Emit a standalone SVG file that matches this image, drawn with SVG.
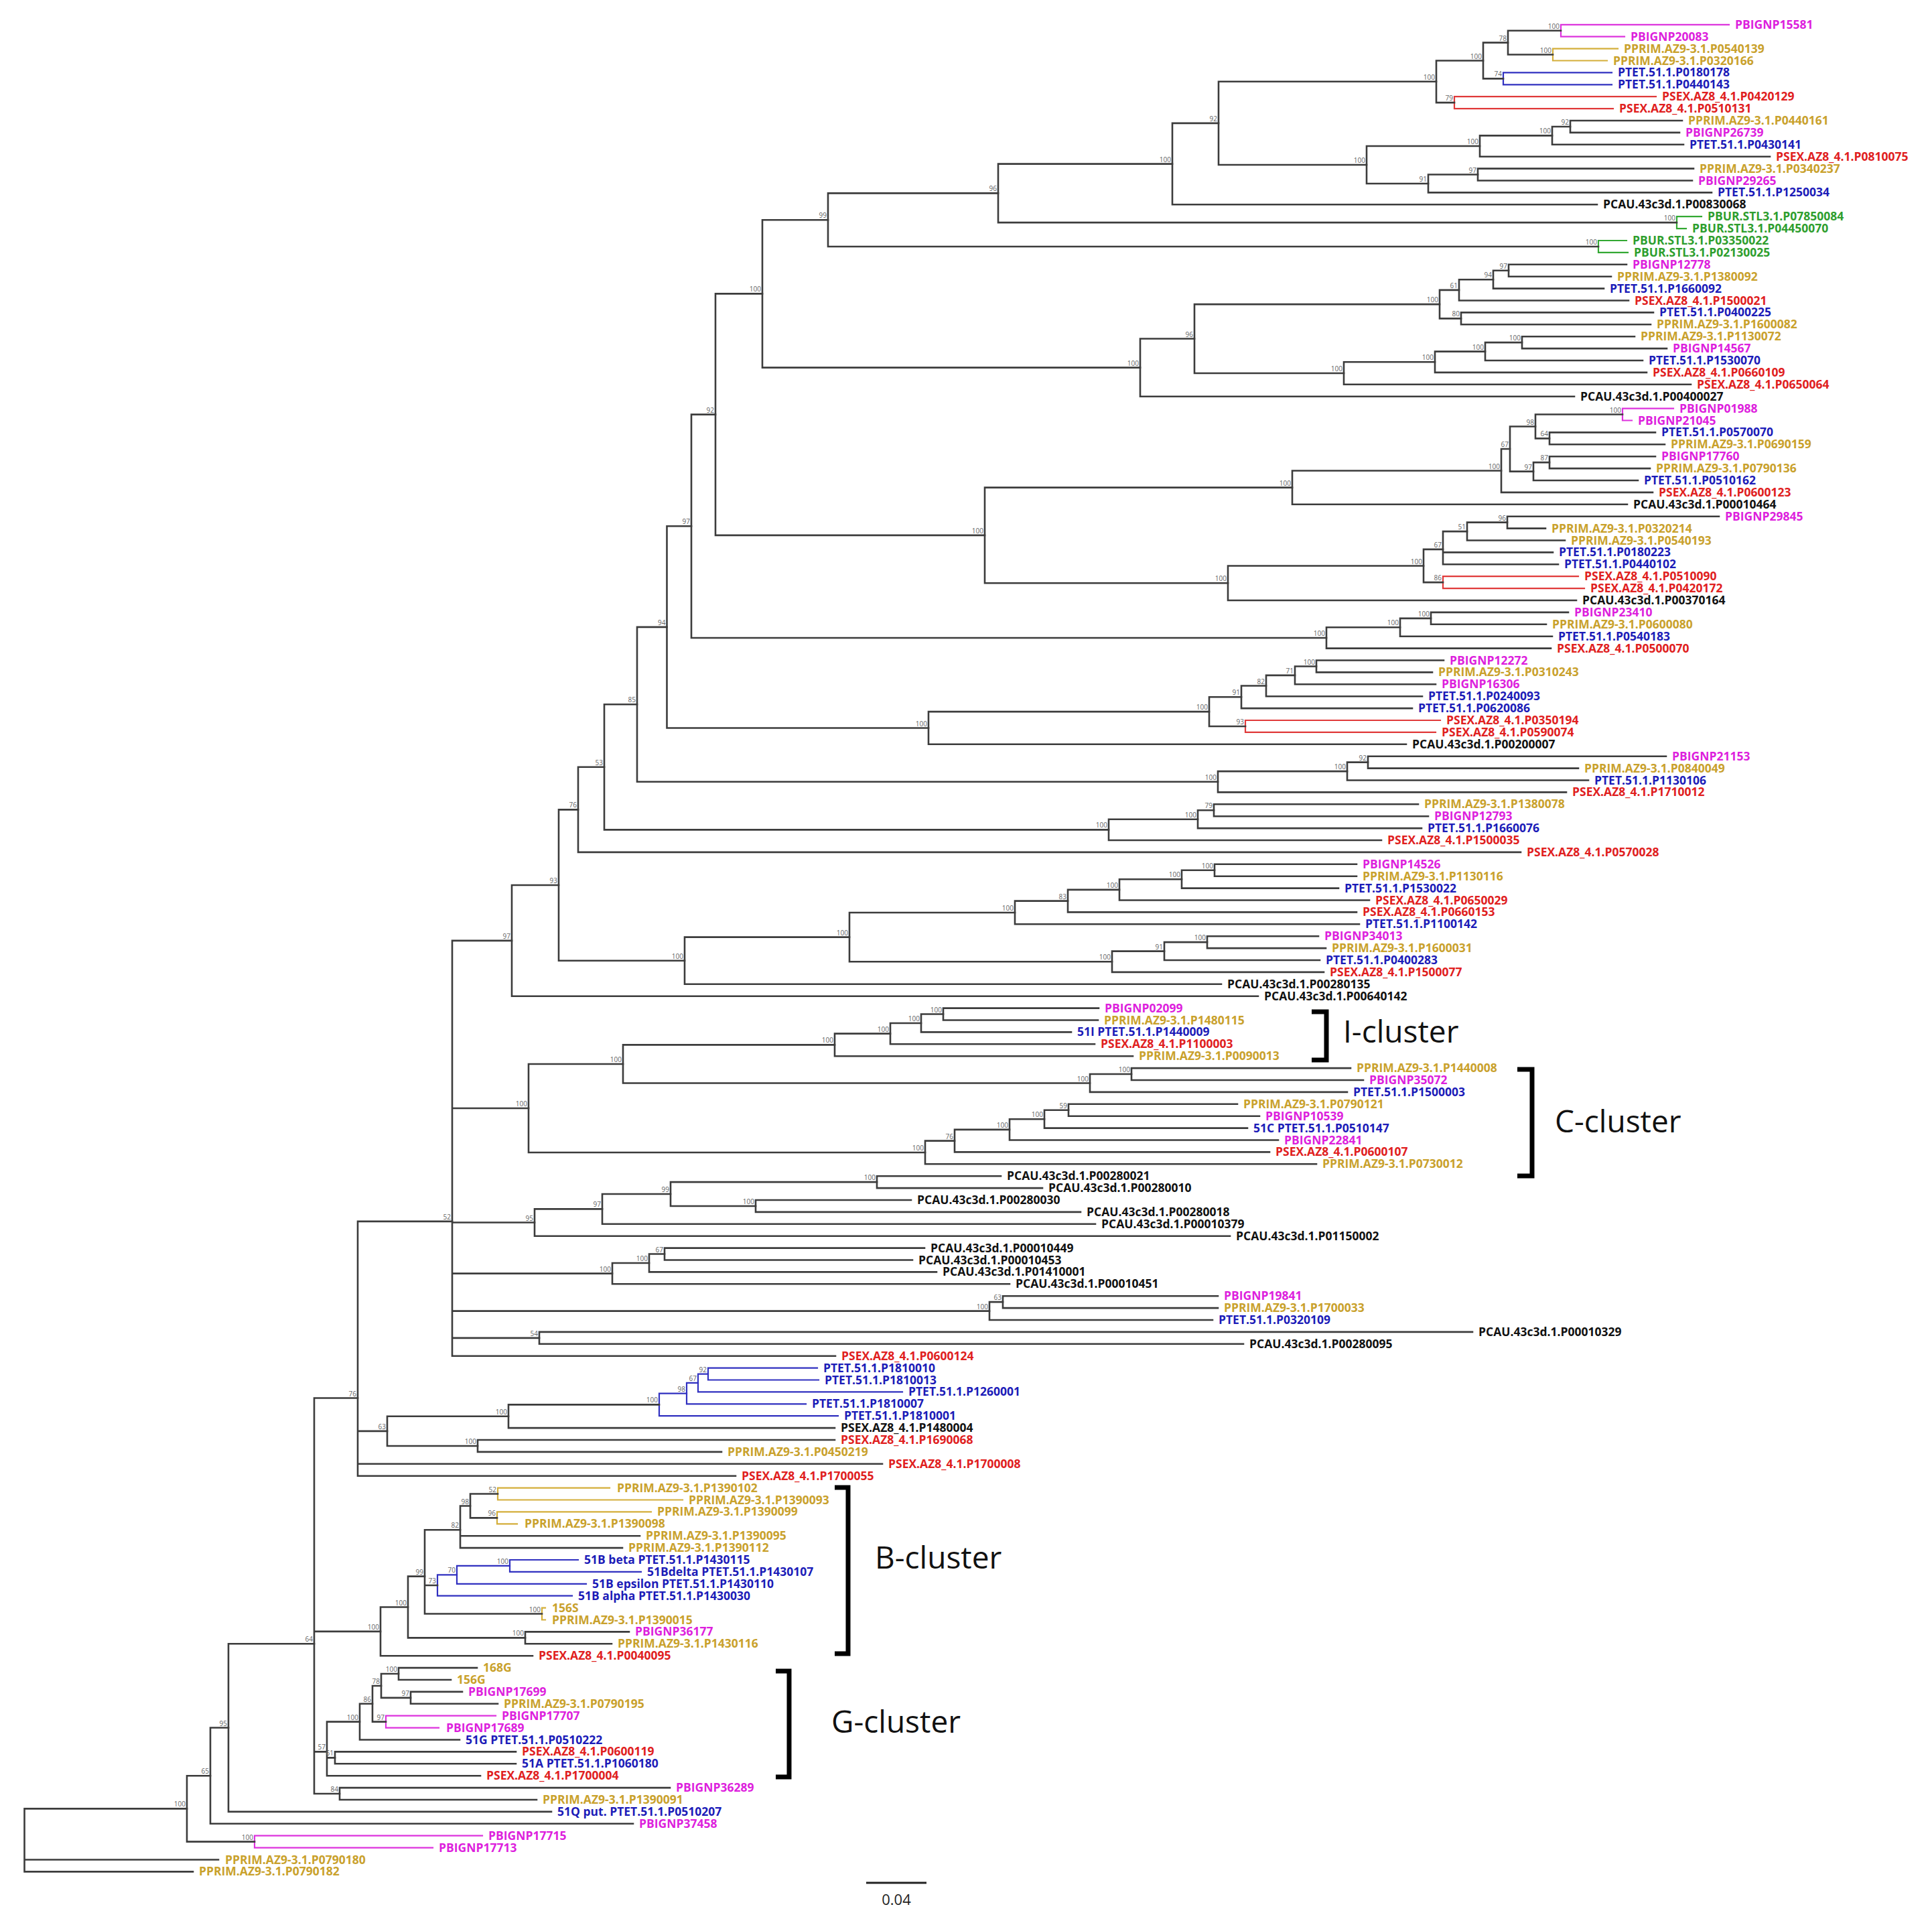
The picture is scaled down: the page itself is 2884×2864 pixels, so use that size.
<svg xmlns="http://www.w3.org/2000/svg" width="2884" height="2864" viewBox="0 0 2884 2864">
<style>
.e{fill:none;stroke:#3c3c3c;stroke-width:2.6;stroke-linecap:square}
.cm{fill:none;stroke:#DD33DD;stroke-width:2.2;stroke-linecap:square}
.cg{fill:none;stroke:#D4AE3A;stroke-width:2.2;stroke-linecap:square}
.cb{fill:none;stroke:#3030C0;stroke-width:2.2;stroke-linecap:square}
.cr{fill:none;stroke:#E03A3A;stroke-width:2.2;stroke-linecap:square}
.cgr{fill:none;stroke:#33A833;stroke-width:2.2;stroke-linecap:square}
text{font-family:"Open Sans","Liberation Sans",sans-serif}
.t{font-weight:700;font-size:17.5px}
.m{fill:#DD1FDD}.g{fill:#C9A12C}.b{fill:#1C1CB8}.r{fill:#E0201E}.gr{fill:#2E9E2E}.k{fill:#111}
.bs{font-family:"Liberation Sans",sans-serif;font-size:10px;fill:#666;text-anchor:end}
.cl{font-size:46px;fill:#111}
.br{fill:none;stroke:#000;stroke-width:7}
</style>
<rect width="2884" height="2864" fill="#fff"/>
<g id="connectors">
<path class="cm" d="M2330 36.8V54.7M2330 36.8H2581M2330 54.7H2425"/>
<path class="cg" d="M2318 72.6V90.5M2318 72.6H2415M2318 90.5H2399"/>
<path class="e" d="M2251 45.75V81.55M2251 45.75H2330M2251 81.55H2318"/>
<path class="cb" d="M2244 108.4V126.3M2244 108.4H2406M2244 126.3H2406"/>
<path class="e" d="M2214 63.65V117.35M2214 63.65H2251M2214 117.35H2244"/>
<path class="cr" d="M2171 144.2V162.1M2171 144.2H2472M2171 162.1H2408"/>
<path class="e" d="M2144 90.5V153.15M2144 90.5H2214M2144 153.15H2171"/>
<path class="e" d="M2344 180V197.9M2344 180H2511M2344 197.9H2507"/>
<path class="e" d="M2317 188.95V215.8M2317 188.95H2344M2317 215.8H2513"/>
<path class="e" d="M2209 202.4V233.7M2209 202.4H2317M2209 233.7H2642"/>
<path class="e" d="M2206 251.6V269.5M2206 251.6H2528M2206 269.5H2526"/>
<path class="e" d="M2132 260.55V287.4M2132 260.55H2206M2132 287.4H2555"/>
<path class="e" d="M2040 218.05V273.95M2040 218.05H2209M2040 273.95H2132"/>
<path class="e" d="M1819 121.8V246M1819 121.8H2144M1819 246H2040"/>
<path class="e" d="M1750 183.9V305.3M1750 183.9H1819M1750 305.3H2384"/>
<path class="cgr" d="M2503 323.2V341.1M2503 323.2H2540M2503 341.1H2517"/>
<path class="e" d="M1490 244.6V332.15M1490 244.6H1750M1490 332.15H2503"/>
<path class="cgr" d="M2386 359V376.9M2386 359H2428M2386 376.9H2430"/>
<path class="e" d="M1236 288.4V367.95M1236 288.4H1490M1236 367.95H2386"/>
<path class="e" d="M2252 394.8V412.7M2252 394.8H2428M2252 412.7H2405"/>
<path class="e" d="M2229 403.75V430.6M2229 403.75H2252M2229 430.6H2394"/>
<path class="e" d="M2178 417.2V448.5M2178 417.2H2229M2178 448.5H2431"/>
<path class="e" d="M2181 466.4V484.3M2181 466.4H2468M2181 484.3H2464"/>
<path class="e" d="M2149 432.85V475.35M2149 432.85H2178M2149 475.35H2181"/>
<path class="e" d="M2272 502.2V520.1M2272 502.2H2440M2272 520.1H2488"/>
<path class="e" d="M2217 511.15V538M2217 511.15H2272M2217 538H2452"/>
<path class="e" d="M2142 524.6V555.9M2142 524.6H2217M2142 555.9H2458"/>
<path class="e" d="M2006 540.25V573.8M2006 540.25H2142M2006 573.8H2524"/>
<path class="e" d="M1783 454.1V557M1783 454.1H2149M1783 557H2006"/>
<path class="e" d="M1702 505.55V591.7M1702 505.55H1783M1702 591.7H2350"/>
<path class="e" d="M1138 328.2V548.6M1138 328.2H1236M1138 548.6H1702"/>
<path class="cm" d="M2422 609.6V627.5M2422 609.6H2498M2422 627.5H2436"/>
<path class="e" d="M2313 645.4V663.3M2313 645.4H2471M2313 663.3H2485"/>
<path class="e" d="M2292 618.55V654.35M2292 618.55H2422M2292 654.35H2313"/>
<path class="e" d="M2313 681.2V699.1M2313 681.2H2471M2313 699.1H2463"/>
<path class="e" d="M2289 690.15V717M2289 690.15H2313M2289 717H2445"/>
<path class="e" d="M2254 636.45V703.6M2254 636.45H2292M2254 703.6H2289"/>
<path class="e" d="M2241 670V734.9M2241 670H2254M2241 734.9H2467"/>
<path class="e" d="M1929 702.45V752.8M1929 702.45H2241M1929 752.8H2429"/>
<path class="e" d="M2250 770.7V788.6M2250 770.7H2566M2250 788.6H2307"/>
<path class="e" d="M2190 779.65V806.5M2190 779.65H2250M2190 806.5H2336"/>
<path class="e" d="M2154 793.1V842.3M2154 793.1H2190M2154 824.4H2318M2154 842.3H2326"/>
<path class="cr" d="M2154 860.2V878.1M2154 860.2H2356M2154 878.1H2365"/>
<path class="e" d="M2125 819.9V869.15M2125 819.9H2154M2125 869.15H2154"/>
<path class="e" d="M1833 844.5V896M1833 844.5H2125M1833 896H2353"/>
<path class="e" d="M1470 727.6V870.25M1470 727.6H1929M1470 870.25H1833"/>
<path class="e" d="M1068 438.4V798.9M1068 438.4H1138M1068 798.9H1470"/>
<path class="e" d="M2136 913.9V931.8M2136 913.9H2341M2136 931.8H2308"/>
<path class="e" d="M2090 922.85V949.7M2090 922.85H2136M2090 949.7H2317"/>
<path class="e" d="M1980 936.3V967.6M1980 936.3H2090M1980 967.6H2315"/>
<path class="e" d="M1032 618.65V951.95M1032 618.65H1068M1032 951.95H1980"/>
<path class="e" d="M1965 985.5V1003.4M1965 985.5H2155M1965 1003.4H2138"/>
<path class="e" d="M1933 994.45V1021.3M1933 994.45H1965M1933 1021.3H2143"/>
<path class="e" d="M1890 1007.9V1039.2M1890 1007.9H1933M1890 1039.2H2123"/>
<path class="e" d="M1853 1023.55V1057.1M1853 1023.55H1890M1853 1057.1H2108"/>
<path class="cr" d="M1859 1075V1092.9M1859 1075H2150M1859 1092.9H2143"/>
<path class="e" d="M1805 1040.3V1083.95M1805 1040.3H1853M1805 1083.95H1859"/>
<path class="e" d="M1386 1062.1V1110.8M1386 1062.1H1805M1386 1110.8H2099"/>
<path class="e" d="M995.5 785.3V1086.45M995.5 785.3H1032M995.5 1086.45H1386"/>
<path class="e" d="M2042 1128.7V1146.6M2042 1128.7H2487M2042 1146.6H2356"/>
<path class="e" d="M2011 1137.65V1164.5M2011 1137.65H2042M2011 1164.5H2371"/>
<path class="e" d="M1818 1151.1V1182.4M1818 1151.1H2011M1818 1182.4H2338"/>
<path class="e" d="M951 935.9V1166.75M951 935.9H995.5M951 1166.75H1818"/>
<path class="e" d="M1812 1200.3V1218.2M1812 1200.3H2117M1812 1218.2H2132"/>
<path class="e" d="M1788 1209.25V1236.1M1788 1209.25H1812M1788 1236.1H2122"/>
<path class="e" d="M1655 1222.7V1254M1655 1222.7H1788M1655 1254H2062"/>
<path class="e" d="M902 1051.3V1238.35M902 1051.3H951M902 1238.35H1655"/>
<path class="e" d="M863 1144.8V1271.9M863 1144.8H902M863 1271.9H2270"/>
<path class="e" d="M1813 1289.8V1307.7M1813 1289.8H2025M1813 1307.7H2025"/>
<path class="e" d="M1764 1298.75V1325.6M1764 1298.75H1813M1764 1325.6H1998"/>
<path class="e" d="M1671 1312.2V1343.5M1671 1312.2H1764M1671 1343.5H2044"/>
<path class="e" d="M1594 1327.85V1361.4M1594 1327.85H1671M1594 1361.4H2025"/>
<path class="e" d="M1515 1344.6V1379.3M1515 1344.6H1594M1515 1379.3H2029"/>
<path class="e" d="M1802 1397.2V1415.1M1802 1397.2H1968M1802 1415.1H1979"/>
<path class="e" d="M1738 1406.15V1433M1738 1406.15H1802M1738 1433H1970"/>
<path class="e" d="M1660 1419.6V1450.9M1660 1419.6H1738M1660 1450.9H1976"/>
<path class="e" d="M1268 1361.95V1435.25M1268 1361.95H1515M1268 1435.25H1660"/>
<path class="e" d="M1022 1398.6V1468.8M1022 1398.6H1268M1022 1468.8H1823"/>
<path class="e" d="M834 1208.35V1433.7M834 1208.35H863M834 1433.7H1022"/>
<path class="e" d="M764 1321V1486.7M764 1321H834M764 1486.7H1878"/>
<path class="e" d="M1408 1504.6V1522.5M1408 1504.6H1640M1408 1522.5H1639"/>
<path class="e" d="M1375 1513.55V1540.4M1375 1513.55H1408M1375 1540.4H1599"/>
<path class="e" d="M1329 1527V1558.3M1329 1527H1375M1329 1558.3H1634"/>
<path class="e" d="M1246 1542.65V1576.2M1246 1542.65H1329M1246 1576.2H1691"/>
<path class="e" d="M1689 1594.1V1612M1689 1594.1H2016M1689 1612H2035"/>
<path class="e" d="M1627 1603.05V1629.9M1627 1603.05H1689M1627 1629.9H2011"/>
<path class="e" d="M930 1559.4V1616.5M930 1559.4H1246M930 1616.5H1627"/>
<path class="e" d="M1595 1647.8V1665.7M1595 1647.8H1847M1595 1665.7H1880"/>
<path class="e" d="M1559 1656.75V1683.6M1559 1656.75H1595M1559 1683.6H1862"/>
<path class="e" d="M1507 1670.2V1701.5M1507 1670.2H1559M1507 1701.5H1908"/>
<path class="e" d="M1425 1685.85V1719.4M1425 1685.85H1507M1425 1719.4H1895"/>
<path class="e" d="M1381 1702.6V1737.3M1381 1702.6H1425M1381 1737.3H1965"/>
<path class="e" d="M789 1587.95V1719.95M789 1587.95H930M789 1719.95H1381"/>
<path class="e" d="M1309 1755.2V1773.1M1309 1755.2H1494M1309 1773.1H1556"/>
<path class="e" d="M1128 1791V1808.9M1128 1791H1360M1128 1808.9H1613"/>
<path class="e" d="M1001 1764.15V1799.95M1001 1764.15H1309M1001 1799.95H1128"/>
<path class="e" d="M899 1782.05V1826.8M899 1782.05H1001M899 1826.8H1635"/>
<path class="e" d="M798 1804.4V1844.7M798 1804.4H899M798 1844.7H1836"/>
<path class="e" d="M992 1862.6V1880.5M992 1862.6H1380M992 1880.5H1362"/>
<path class="e" d="M969 1871.55V1898.4M969 1871.55H992M969 1898.4H1398"/>
<path class="e" d="M914 1885V1916.3M914 1885H969M914 1916.3H1507"/>
<path class="e" d="M1497 1934.2V1952.1M1497 1934.2H1818M1497 1952.1H1818"/>
<path class="e" d="M1477 1943.15V1970M1477 1943.15H1497M1477 1970H1810"/>
<path class="e" d="M805 1987.9V2005.8M805 1987.9H2198M805 2005.8H1856"/>
<path class="e" d="M675 1403.85V2023.7M675 1403.85H764M675 1653.95H789M675 1824.55H798M675 1900.65H914M675 1956.6H1477M675 1996.85H805M675 2023.7H1247"/>
<path class="cb" d="M1057 2041.6V2059.5M1057 2041.6H1220M1057 2059.5H1222"/>
<path class="cb" d="M1042 2050.55V2077.4M1042 2050.55H1057M1042 2077.4H1347"/>
<path class="cb" d="M1025 2063.95V2095.3M1025 2063.95H1042M1025 2095.3H1203"/>
<path class="cb" d="M984 2079.6V2113.2M984 2079.6H1025M984 2113.2H1251"/>
<path class="e" d="M759 2096.4V2131.1M759 2096.4H984M759 2131.1H1246"/>
<path class="e" d="M713 2149V2166.9M713 2149H1246M713 2166.9H1077"/>
<path class="e" d="M578 2113.75V2157.95M578 2113.75H759M578 2157.95H713"/>
<path class="e" d="M534 1822.88V2202.7M534 1822.88H675M534 2135.85H578M534 2184.8H1317M534 2202.7H1098"/>
<path class="cg" d="M743 2220.6V2238.5M743 2220.6H910M743 2238.5H1019"/>
<path class="cg" d="M742 2256.4V2274.3M742 2256.4H972M742 2274.3H772"/>
<path class="e" d="M702 2229.55V2265.35M702 2229.55H743M702 2265.35H742"/>
<path class="e" d="M687 2247.45V2310.1M687 2247.45H702M687 2292.2H955M687 2310.1H929"/>
<path class="cb" d="M761 2328V2345.9M761 2328H863M761 2345.9H957"/>
<path class="cb" d="M682 2336.95V2363.8M682 2336.95H761M682 2363.8H875"/>
<path class="cb" d="M653 2350.4V2381.7M653 2350.4H682M653 2381.7H854"/>
<path class="cg" d="M809 2399.6V2417.5M809 2399.6H814M809 2417.5H814"/>
<path class="e" d="M634 2283.25V2408.55M634 2283.25H687M634 2366.05H653M634 2408.55H809"/>
<path class="e" d="M784 2435.4V2453.3M784 2435.4H939M784 2453.3H913"/>
<path class="e" d="M609 2352.6V2444.35M609 2352.6H634M609 2444.35H784"/>
<path class="e" d="M568 2398.5V2471.2M568 2398.5H609M568 2471.2H795"/>
<path class="e" d="M595 2489.1V2507M595 2489.1H712M595 2507H673"/>
<path class="e" d="M613 2524.9V2542.8M613 2524.9H690M613 2542.8H743"/>
<path class="e" d="M569 2498.05V2533.85M569 2498.05H595M569 2533.85H613"/>
<path class="cm" d="M576 2560.7V2578.6M576 2560.7H740M576 2578.6H655"/>
<path class="e" d="M556 2515.95V2569.65M556 2515.95H569M556 2569.65H576"/>
<path class="e" d="M537 2542.8V2596.5M537 2542.8H556M537 2596.5H686"/>
<path class="e" d="M500 2614.4V2632.3M500 2614.4H770M500 2632.3H770"/>
<path class="e" d="M488 2569.65V2650.2M488 2569.65H537M488 2623.35H500M488 2650.2H717"/>
<path class="e" d="M507 2668.1V2686M507 2668.1H1000M507 2686H801"/>
<path class="e" d="M469 2086.56V2677.05M469 2086.56H534M469 2434.85H568M469 2614.4H488M469 2677.05H507"/>
<path class="e" d="M341 2453.2V2703.9M341 2453.2H469M341 2703.9H823"/>
<path class="e" d="M314 2578.55V2721.8M314 2578.55H341M314 2721.8H945"/>
<path class="cm" d="M380 2739.7V2757.6M380 2739.7H720M380 2757.6H646"/>
<path class="e" d="M279 2650.2V2748.65M279 2650.2H314M279 2748.65H380"/>
<path class="e" d="M36.5 2699.4V2793.4M36.5 2699.4H279M36.5 2775.5H326M36.5 2793.4H288"/>
</g>
<g id="bootstrap" class="bs">
<text x="2328" y="42.8">100</text><text x="2316" y="78.6">100</text><text x="2249" y="60.7">78</text><text x="2242" y="114.4">74</text><text x="2212" y="87.5">100</text><text x="2169" y="150.2">79</text><text x="2142" y="118.8">100</text>
<text x="2342" y="186">92</text><text x="2315" y="199.4">100</text><text x="2207" y="215">100</text><text x="2204" y="257.6">97</text><text x="2130" y="271">91</text><text x="2038" y="243">100</text>
<text x="1817" y="180.9">92</text><text x="1748" y="241.6">100</text><text x="1488" y="285.4">96</text><text x="2501" y="329.2">100</text><text x="2384" y="365">100</text><text x="1234" y="325.2">99</text>
<text x="2250" y="400.8">97</text><text x="2227" y="414.2">94</text><text x="2176" y="429.9">61</text><text x="2179" y="472.4">80</text><text x="2147" y="451.1">100</text><text x="2270" y="508.2">100</text><text x="2215" y="521.6">100</text><text x="2140" y="537.3">100</text><text x="2004" y="554">100</text><text x="1781" y="502.6">96</text><text x="1700" y="545.6">100</text><text x="1136" y="435.4">100</text>
<text x="2420" y="615.6">100</text><text x="2311" y="651.4">64</text><text x="2290" y="633.5">98</text><text x="2311" y="687.2">87</text><text x="2287" y="700.6">97</text><text x="2252" y="667">67</text><text x="2239" y="699.5">100</text><text x="1927" y="724.6">100</text>
<text x="2248" y="776.7">96</text><text x="2188" y="790.1">51</text><text x="2152" y="816.9">67</text><text x="2152" y="866.2">86</text><text x="2123" y="841.5">100</text><text x="1831" y="867.3">100</text><text x="1468" y="795.9">100</text><text x="1066" y="615.7">92</text>
<text x="2134" y="919.9">100</text><text x="2088" y="933.3">100</text><text x="1978" y="949">100</text><text x="1030" y="782.3">97</text>
<text x="1963" y="991.5">100</text><text x="1931" y="1004.9">71</text><text x="1888" y="1020.6">82</text><text x="1851" y="1037.3">91</text><text x="1857" y="1081">93</text><text x="1803" y="1059.1">100</text><text x="1384" y="1083.5">100</text><text x="993.5" y="932.9">94</text>
<text x="2040" y="1134.7">92</text><text x="2009" y="1148.1">100</text><text x="1816" y="1163.8">100</text><text x="949" y="1048.3">85</text>
<text x="1810" y="1206.3">79</text><text x="1786" y="1219.7">100</text><text x="1653" y="1235.4">100</text><text x="900" y="1141.8">53</text><text x="861" y="1205.4">76</text>
<text x="1811" y="1295.8">100</text><text x="1762" y="1309.2">100</text><text x="1669" y="1324.9">100</text><text x="1592" y="1341.6">83</text><text x="1513" y="1359">100</text><text x="1800" y="1403.2">100</text><text x="1736" y="1416.6">91</text><text x="1658" y="1432.3">100</text><text x="1266" y="1395.6">100</text><text x="1020" y="1430.7">100</text><text x="832" y="1318">93</text><text x="762" y="1400.9">97</text>
<text x="1406" y="1510.6">100</text><text x="1373" y="1524">100</text><text x="1327" y="1539.7">100</text><text x="1244" y="1556.4">100</text><text x="1687" y="1600">100</text><text x="1625" y="1613.5">100</text><text x="928" y="1585">100</text>
<text x="1593" y="1653.8">59</text><text x="1557" y="1667.2">100</text><text x="1505" y="1682.9">100</text><text x="1423" y="1699.6">76</text><text x="1379" y="1717">100</text><text x="787" y="1651">100</text>
<text x="1307" y="1761.2">100</text><text x="1126" y="1797">100</text><text x="999" y="1779">99</text><text x="897" y="1801.4">97</text><text x="796" y="1821.6">95</text>
<text x="990" y="1868.6">67</text><text x="967" y="1882">100</text><text x="912" y="1897.7">100</text><text x="1495" y="1940.2">63</text><text x="1475" y="1953.6">100</text><text x="803" y="1993.9">54</text><text x="673" y="1819.9">52</text>
<text x="1055" y="2047.6">92</text><text x="1040" y="2061">67</text><text x="1023" y="2076.6">98</text><text x="982" y="2093.4">100</text><text x="757" y="2110.8">100</text><text x="711" y="2155">100</text><text x="576" y="2132.9">63</text><text x="532" y="2083.6">76</text>
<text x="741" y="2226.6">52</text><text x="740" y="2262.4">96</text><text x="700" y="2244.5">98</text><text x="685" y="2280.3">82</text><text x="759" y="2334">100</text><text x="680" y="2347.4">70</text><text x="651" y="2363">73</text><text x="807" y="2405.6">100</text><text x="632" y="2349.6">99</text><text x="782" y="2441.4">100</text><text x="607" y="2395.5">100</text><text x="566" y="2431.9">100</text>
<text x="593" y="2495">100</text><text x="611" y="2530.9">97</text><text x="567" y="2513">78</text><text x="574" y="2566.7">97</text><text x="554" y="2539.8">86</text><text x="535" y="2566.7">100</text><text x="498" y="2620.4">61</text><text x="486" y="2611.4">57</text><text x="505" y="2674">84</text>
<text x="467" y="2450.2">64</text><text x="339" y="2575.6">95</text><text x="312" y="2647.2">65</text><text x="378" y="2745.7">100</text><text x="277" y="2696.4">100</text>
</g>
<g id="leaves" class="t">
<g id="n1"><text class="m" x="2590" y="42.8">PBIGNP15581</text></g>
<g id="n2"><text class="m" x="2434" y="60.7">PBIGNP20083</text></g>
<g id="n3"><text class="g" x="2424" y="78.6">PPRIM.AZ9-3.1.P0540139</text></g>
<g id="n4"><text class="g" x="2408" y="96.5">PPRIM.AZ9-3.1.P0320166</text></g>
<g id="n5"><text class="b" x="2415" y="114.4">PTET.51.1.P0180178</text></g>
<g id="n6"><text class="b" x="2415" y="132.3">PTET.51.1.P0440143</text></g>
<g id="n7"><text class="r" x="2481" y="150.2">PSEX.AZ8_4.1.P0420129</text></g>
<g id="n8"><text class="r" x="2417" y="168.1">PSEX.AZ8_4.1.P0510131</text></g>
<g id="n9"><text class="g" x="2520" y="186">PPRIM.AZ9-3.1.P0440161</text></g>
<g id="n10"><text class="m" x="2516" y="203.9">PBIGNP26739</text></g>
<g id="n11"><text class="b" x="2522" y="221.8">PTET.51.1.P0430141</text></g>
<g id="n12"><text class="r" x="2651" y="239.7">PSEX.AZ8_4.1.P0810075</text></g>
<g id="n13"><text class="g" x="2537" y="257.6">PPRIM.AZ9-3.1.P0340237</text></g>
<g id="n14"><text class="m" x="2535" y="275.5">PBIGNP29265</text></g>
<g id="n15"><text class="b" x="2564" y="293.4">PTET.51.1.P1250034</text></g>
<g id="n16"><text class="k" x="2393" y="311.3">PCAU.43c3d.1.P00830068</text></g>
<g id="n17"><text class="gr" x="2549" y="329.2">PBUR.STL3.1.P07850084</text></g>
<g id="n18"><text class="gr" x="2526" y="347.1">PBUR.STL3.1.P04450070</text></g>
<g id="n19"><text class="gr" x="2437" y="365">PBUR.STL3.1.P03350022</text></g>
<g id="n20"><text class="gr" x="2439" y="382.9">PBUR.STL3.1.P02130025</text></g>
<g id="n21"><text class="m" x="2437" y="400.8">PBIGNP12778</text></g>
<g id="n22"><text class="g" x="2414" y="418.7">PPRIM.AZ9-3.1.P1380092</text></g>
<g id="n23"><text class="b" x="2403" y="436.6">PTET.51.1.P1660092</text></g>
<g id="n24"><text class="r" x="2440" y="454.5">PSEX.AZ8_4.1.P1500021</text></g>
<g id="n25"><text class="b" x="2477" y="472.4">PTET.51.1.P0400225</text></g>
<g id="n26"><text class="g" x="2473" y="490.3">PPRIM.AZ9-3.1.P1600082</text></g>
<g id="n27"><text class="g" x="2449" y="508.2">PPRIM.AZ9-3.1.P1130072</text></g>
<g id="n28"><text class="m" x="2497" y="526.1">PBIGNP14567</text></g>
<g id="n29"><text class="b" x="2461" y="544">PTET.51.1.P1530070</text></g>
<g id="n30"><text class="r" x="2467" y="561.9">PSEX.AZ8_4.1.P0660109</text></g>
<g id="n31"><text class="r" x="2533" y="579.8">PSEX.AZ8_4.1.P0650064</text></g>
<g id="n32"><text class="k" x="2359" y="597.7">PCAU.43c3d.1.P00400027</text></g>
<g id="n33"><text class="m" x="2507" y="615.6">PBIGNP01988</text></g>
<g id="n34"><text class="m" x="2445" y="633.5">PBIGNP21045</text></g>
<g id="n35"><text class="b" x="2480" y="651.4">PTET.51.1.P0570070</text></g>
<g id="n36"><text class="g" x="2494" y="669.3">PPRIM.AZ9-3.1.P0690159</text></g>
<g id="n37"><text class="m" x="2480" y="687.2">PBIGNP17760</text></g>
<g id="n38"><text class="g" x="2472" y="705.1">PPRIM.AZ9-3.1.P0790136</text></g>
<g id="n39"><text class="b" x="2454" y="723">PTET.51.1.P0510162</text></g>
<g id="n40"><text class="r" x="2476" y="740.9">PSEX.AZ8_4.1.P0600123</text></g>
<g id="n41"><text class="k" x="2438" y="758.8">PCAU.43c3d.1.P00010464</text></g>
<g id="n42"><text class="m" x="2575" y="776.7">PBIGNP29845</text></g>
<g id="n43"><text class="g" x="2316" y="794.6">PPRIM.AZ9-3.1.P0320214</text></g>
<g id="n44"><text class="g" x="2345" y="812.5">PPRIM.AZ9-3.1.P0540193</text></g>
<g id="n45"><text class="b" x="2327" y="830.4">PTET.51.1.P0180223</text></g>
<g id="n46"><text class="b" x="2335" y="848.3">PTET.51.1.P0440102</text></g>
<g id="n47"><text class="r" x="2365" y="866.2">PSEX.AZ8_4.1.P0510090</text></g>
<g id="n48"><text class="r" x="2374" y="884.1">PSEX.AZ8_4.1.P0420172</text></g>
<g id="n49"><text class="k" x="2362" y="902">PCAU.43c3d.1.P00370164</text></g>
<g id="n50"><text class="m" x="2350" y="919.9">PBIGNP23410</text></g>
<g id="n51"><text class="g" x="2317" y="937.8">PPRIM.AZ9-3.1.P0600080</text></g>
<g id="n52"><text class="b" x="2326" y="955.7">PTET.51.1.P0540183</text></g>
<g id="n53"><text class="r" x="2324" y="973.6">PSEX.AZ8_4.1.P0500070</text></g>
<g id="n54"><text class="m" x="2164" y="991.5">PBIGNP12272</text></g>
<g id="n55"><text class="g" x="2147" y="1009.4">PPRIM.AZ9-3.1.P0310243</text></g>
<g id="n56"><text class="m" x="2152" y="1027.3">PBIGNP16306</text></g>
<g id="n57"><text class="b" x="2132" y="1045.2">PTET.51.1.P0240093</text></g>
<g id="n58"><text class="b" x="2117" y="1063.1">PTET.51.1.P0620086</text></g>
<g id="n59"><text class="r" x="2159" y="1081">PSEX.AZ8_4.1.P0350194</text></g>
<g id="n60"><text class="r" x="2152" y="1098.9">PSEX.AZ8_4.1.P0590074</text></g>
<g id="n61"><text class="k" x="2108" y="1116.8">PCAU.43c3d.1.P00200007</text></g>
<g id="n62"><text class="m" x="2496" y="1134.7">PBIGNP21153</text></g>
<g id="n63"><text class="g" x="2365" y="1152.6">PPRIM.AZ9-3.1.P0840049</text></g>
<g id="n64"><text class="b" x="2380" y="1170.5">PTET.51.1.P1130106</text></g>
<g id="n65"><text class="r" x="2347" y="1188.4">PSEX.AZ8_4.1.P1710012</text></g>
<g id="n66"><text class="g" x="2126" y="1206.3">PPRIM.AZ9-3.1.P1380078</text></g>
<g id="n67"><text class="m" x="2141" y="1224.2">PBIGNP12793</text></g>
<g id="n68"><text class="b" x="2131" y="1242.1">PTET.51.1.P1660076</text></g>
<g id="n69"><text class="r" x="2071" y="1260">PSEX.AZ8_4.1.P1500035</text></g>
<g id="n70"><text class="r" x="2279" y="1277.9">PSEX.AZ8_4.1.P0570028</text></g>
<g id="n71"><text class="m" x="2034" y="1295.8">PBIGNP14526</text></g>
<g id="n72"><text class="g" x="2034" y="1313.7">PPRIM.AZ9-3.1.P1130116</text></g>
<g id="n73"><text class="b" x="2007" y="1331.6">PTET.51.1.P1530022</text></g>
<g id="n74"><text class="r" x="2053" y="1349.5">PSEX.AZ8_4.1.P0650029</text></g>
<g id="n75"><text class="r" x="2034" y="1367.4">PSEX.AZ8_4.1.P0660153</text></g>
<g id="n76"><text class="b" x="2038" y="1385.3">PTET.51.1.P1100142</text></g>
<g id="n77"><text class="m" x="1977" y="1403.2">PBIGNP34013</text></g>
<g id="n78"><text class="g" x="1988" y="1421.1">PPRIM.AZ9-3.1.P1600031</text></g>
<g id="n79"><text class="b" x="1979" y="1439">PTET.51.1.P0400283</text></g>
<g id="n80"><text class="r" x="1985" y="1456.9">PSEX.AZ8_4.1.P1500077</text></g>
<g id="n81"><text class="k" x="1832" y="1474.8">PCAU.43c3d.1.P00280135</text></g>
<g id="n82"><text class="k" x="1887" y="1492.7">PCAU.43c3d.1.P00640142</text></g>
<g id="n83"><text class="m" x="1649" y="1510.6">PBIGNP02099</text></g>
<g id="n84"><text class="g" x="1648" y="1528.5">PPRIM.AZ9-3.1.P1480115</text></g>
<g id="n85"><text class="b" x="1608" y="1546.4">51I PTET.51.1.P1440009</text></g>
<g id="n86"><text class="r" x="1643" y="1564.3">PSEX.AZ8_4.1.P1100003</text></g>
<g id="n87"><text class="g" x="1700" y="1582.2">PPRIM.AZ9-3.1.P0090013</text></g>
<g id="n88"><text class="g" x="2025" y="1600.1">PPRIM.AZ9-3.1.P1440008</text></g>
<g id="n89"><text class="m" x="2044" y="1618">PBIGNP35072</text></g>
<g id="n90"><text class="b" x="2020" y="1635.9">PTET.51.1.P1500003</text></g>
<g id="n91"><text class="g" x="1856" y="1653.8">PPRIM.AZ9-3.1.P0790121</text></g>
<g id="n92"><text class="m" x="1889" y="1671.7">PBIGNP10539</text></g>
<g id="n93"><text class="b" x="1871" y="1689.6">51C PTET.51.1.P0510147</text></g>
<g id="n94"><text class="m" x="1917" y="1707.5">PBIGNP22841</text></g>
<g id="n95"><text class="r" x="1904" y="1725.4">PSEX.AZ8_4.1.P0600107</text></g>
<g id="n96"><text class="g" x="1974" y="1743.3">PPRIM.AZ9-3.1.P0730012</text></g>
<g id="n97"><text class="k" x="1503" y="1761.2">PCAU.43c3d.1.P00280021</text></g>
<g id="n98"><text class="k" x="1565" y="1779.1">PCAU.43c3d.1.P00280010</text></g>
<g id="n99"><text class="k" x="1369" y="1797">PCAU.43c3d.1.P00280030</text></g>
<g id="n100"><text class="k" x="1622" y="1814.9">PCAU.43c3d.1.P00280018</text></g>
<g id="n101"><text class="k" x="1644" y="1832.8">PCAU.43c3d.1.P00010379</text></g>
<g id="n102"><text class="k" x="1845" y="1850.7">PCAU.43c3d.1.P01150002</text></g>
<g id="n103"><text class="k" x="1389" y="1868.6">PCAU.43c3d.1.P00010449</text></g>
<g id="n104"><text class="k" x="1371" y="1886.5">PCAU.43c3d.1.P00010453</text></g>
<g id="n105"><text class="k" x="1407" y="1904.4">PCAU.43c3d.1.P01410001</text></g>
<g id="n106"><text class="k" x="1516" y="1922.3">PCAU.43c3d.1.P00010451</text></g>
<g id="n107"><text class="m" x="1827" y="1940.2">PBIGNP19841</text></g>
<g id="n108"><text class="g" x="1827" y="1958.1">PPRIM.AZ9-3.1.P1700033</text></g>
<g id="n109"><text class="b" x="1819" y="1976">PTET.51.1.P0320109</text></g>
<g id="n110"><text class="k" x="2207" y="1993.9">PCAU.43c3d.1.P00010329</text></g>
<g id="n111"><text class="k" x="1865" y="2011.8">PCAU.43c3d.1.P00280095</text></g>
<g id="n112"><text class="r" x="1256" y="2029.7">PSEX.AZ8_4.1.P0600124</text></g>
<g id="n113"><text class="b" x="1229" y="2047.6">PTET.51.1.P1810010</text></g>
<g id="n114"><text class="b" x="1231" y="2065.5">PTET.51.1.P1810013</text></g>
<g id="n115"><text class="b" x="1356" y="2083.4">PTET.51.1.P1260001</text></g>
<g id="n116"><text class="b" x="1212" y="2101.3">PTET.51.1.P1810007</text></g>
<g id="n117"><text class="b" x="1260" y="2119.2">PTET.51.1.P1810001</text></g>
<g id="n118"><text class="k" x="1255" y="2137.1">PSEX.AZ8_4.1.P1480004</text></g>
<g id="n119"><text class="r" x="1255" y="2155">PSEX.AZ8_4.1.P1690068</text></g>
<g id="n120"><text class="g" x="1086" y="2172.9">PPRIM.AZ9-3.1.P0450219</text></g>
<g id="n121"><text class="r" x="1326" y="2190.8">PSEX.AZ8_4.1.P1700008</text></g>
<g id="n122"><text class="r" x="1107" y="2208.7">PSEX.AZ8_4.1.P1700055</text></g>
<g id="n123"><text class="g" x="921" y="2226.6">PPRIM.AZ9-3.1.P1390102</text></g>
<g id="n124"><text class="g" x="1028" y="2244.5">PPRIM.AZ9-3.1.P1390093</text></g>
<g id="n125"><text class="g" x="981" y="2262.4">PPRIM.AZ9-3.1.P1390099</text></g>
<g id="n126"><text class="g" x="783" y="2280.3">PPRIM.AZ9-3.1.P1390098</text></g>
<g id="n127"><text class="g" x="964" y="2298.2">PPRIM.AZ9-3.1.P1390095</text></g>
<g id="n128"><text class="g" x="938" y="2316.1">PPRIM.AZ9-3.1.P1390112</text></g>
<g id="n129"><text class="b" x="872" y="2334">51B beta PTET.51.1.P1430115</text></g>
<g id="n130"><text class="b" x="966" y="2351.9">51Bdelta PTET.51.1.P1430107</text></g>
<g id="n131"><text class="b" x="884" y="2369.8">51B epsilon PTET.51.1.P1430110</text></g>
<g id="n132"><text class="b" x="863" y="2387.7">51B alpha PTET.51.1.P1430030</text></g>
<g id="n133"><text class="g" x="824" y="2405.6">156S</text></g>
<g id="n134"><text class="g" x="824" y="2423.5">PPRIM.AZ9-3.1.P1390015</text></g>
<g id="n135"><text class="m" x="948" y="2441.4">PBIGNP36177</text></g>
<g id="n136"><text class="g" x="922" y="2459.3">PPRIM.AZ9-3.1.P1430116</text></g>
<g id="n137"><text class="r" x="804" y="2477.2">PSEX.AZ8_4.1.P0040095</text></g>
<g id="n138"><text class="g" x="721" y="2495.1">168G</text></g>
<g id="n139"><text class="g" x="682" y="2513">156G</text></g>
<g id="n140"><text class="m" x="699" y="2530.9">PBIGNP17699</text></g>
<g id="n141"><text class="g" x="752" y="2548.8">PPRIM.AZ9-3.1.P0790195</text></g>
<g id="n142"><text class="m" x="749" y="2566.7">PBIGNP17707</text></g>
<g id="n143"><text class="m" x="666" y="2584.6">PBIGNP17689</text></g>
<g id="n144"><text class="b" x="695" y="2602.5">51G PTET.51.1.P0510222</text></g>
<g id="n145"><text class="r" x="779" y="2620.4">PSEX.AZ8_4.1.P0600119</text></g>
<g id="n146"><text class="b" x="779" y="2638.3">51A PTET.51.1.P1060180</text></g>
<g id="n147"><text class="r" x="726" y="2656.2">PSEX.AZ8_4.1.P1700004</text></g>
<g id="n148"><text class="m" x="1009" y="2674.1">PBIGNP36289</text></g>
<g id="n149"><text class="g" x="810" y="2692">PPRIM.AZ9-3.1.P1390091</text></g>
<g id="n150"><text class="b" x="832" y="2709.9">51Q put. PTET.51.1.P0510207</text></g>
<g id="n151"><text class="m" x="954" y="2727.8">PBIGNP37458</text></g>
<g id="n152"><text class="m" x="729" y="2745.7">PBIGNP17715</text></g>
<g id="n153"><text class="m" x="655" y="2763.6">PBIGNP17713</text></g>
<g id="n154"><text class="g" x="336" y="2781.5">PPRIM.AZ9-3.1.P0790180</text></g>
<g id="n155"><text class="g" x="297" y="2799.4">PPRIM.AZ9-3.1.P0790182</text></g>
</g>
<g id="clusters">
<g id="I-cluster"><path class="br" d="M1958 1510H1980V1582H1958"/><text class="cl" x="2005" y="1556">I-cluster</text></g>
<g id="C-cluster"><path class="br" d="M2265 1596H2287V1755H2265"/><text class="cl" x="2321" y="1690">C-cluster</text></g>
<g id="B-cluster"><path class="br" d="M1246 2220H1266V2468H1246"/><text class="cl" x="1306" y="2341">B-cluster</text></g>
<g id="G-cluster"><path class="br" d="M1158 2494H1178V2652H1158"/><text class="cl" x="1241" y="2586">G-cluster</text></g>
</g>
<g id="scale">
<path d="M1293 2810H1383" stroke="#222" stroke-width="3"/>
<text x="1338" y="2843" font-size="22" text-anchor="middle" fill="#222">0.04</text>
</g>
</svg>
